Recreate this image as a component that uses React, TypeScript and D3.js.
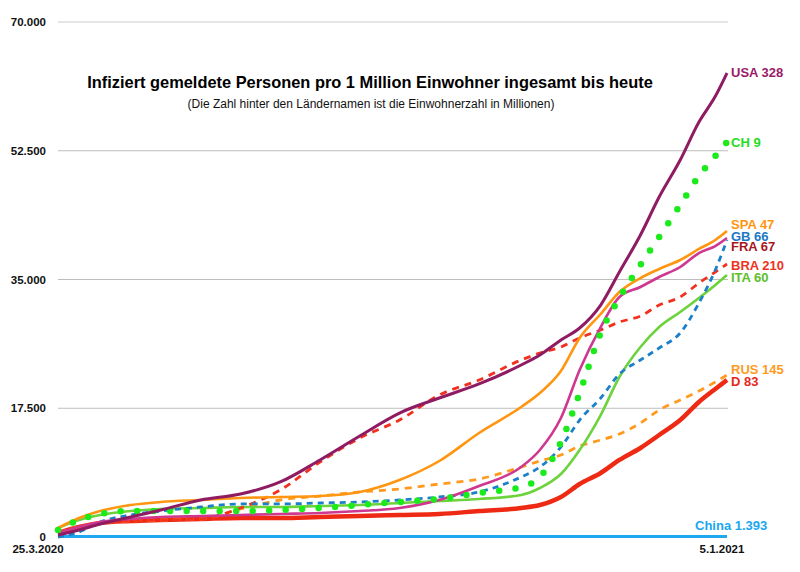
import React from "react";
import * as d3 from "d3";

// ---- data (values = infected per 1 million inhabitants, cumulative) ----
const START = "2020-03-25";
const END = "2021-01-05";
const days = [0, 9, 18, 31, 44, 61, 78, 95, 112, 129, 146, 163, 180, 198, 206, 215, 223, 232, 240, 249, 257, 266, 274, 281, 286];

const usa = [270, 950, 1770, 2720, 3670, 5030, 5840, 7480, 10470, 13730, 16850, 18890, 20800, 23380, 24740, 26780, 28410, 31530, 36020, 41050, 46210, 51240, 56400, 59900, 63070];
const ch = [950, 2310, 3130, 3530, 3530, 3530, 3530, 3670, 3940, 4350, 4760, 5160, 5980, 6800, 8160, 12910, 19570, 27730, 32480, 36970, 40780, 45130, 49070, 51790, 53690];
const spa = [1220, 2580, 3530, 4350, 4760, 5030, 5300, 5440, 5570, 6120, 7750, 10330, 14140, 17670, 19570, 22560, 27050, 30310, 33300, 35200, 36430, 37650, 39150, 40370, 41590];
const gb = [0, 680, 2040, 2990, 3530, 4080, 4490, 4490, 4620, 4760, 5030, 5440, 6120, 8160, 9510, 12230, 15900, 18890, 22150, 24060, 25690, 27730, 31800, 36290, 40370];
const fra = [540, 1360, 2040, 2450, 2720, 2850, 2990, 3130, 3260, 3530, 3940, 5030, 6930, 9510, 11830, 16170, 22700, 28540, 32620, 33980, 35340, 36700, 38600, 39550, 40640];
const bra = [540, 1360, 1900, 2170, 2310, 2450, 3940, 6390, 10190, 13460, 15900, 19300, 21340, 24060, 25010, 25820, 27050, 28140, 29220, 30040, 31530, 32620, 34520, 36020, 37110];
const ita = [1220, 2310, 2990, 3530, 3810, 3940, 4080, 4080, 4210, 4350, 4620, 4890, 5160, 5710, 6660, 8560, 11830, 16580, 21750, 25820, 28540, 30580, 32480, 34250, 35610];
const rus = [540, 1360, 1900, 2170, 2310, 2450, 3810, 5030, 5570, 6120, 6520, 7200, 7880, 9510, 10330, 11150, 12370, 13180, 14000, 15490, 17260, 18620, 19840, 21070, 22020];
const deu = [540, 1360, 1900, 2170, 2310, 2450, 2580, 2580, 2720, 2850, 2990, 3130, 3530, 3940, 4350, 5440, 7200, 8700, 10470, 12100, 13860, 15900, 18350, 20120, 21340];
const china = [60, 63, 63, 63, 64, 64, 64, 64, 64, 64, 64, 64, 64, 64, 64, 64, 64, 64, 64, 65, 65, 65, 65, 65, 65];
const traceDays = [0, 67];
const trace = [0, 0];

const yTicks = [0, 17500, 35000, 52500, 70000];
const xTickLabels = ["25.3.2020", "5.1.2021"];
const title = "Infiziert gemeldete Personen pro 1 Million Einwohner ingesamt bis heute";
const subtitle = "(Die Zahl hinter den Ländernamen ist die Einwohnerzahl in Millionen)";

// ---- styles ----
type S = { name: string; values: number[]; color: string; labelColor: string; width: number; dash?: string; cap?: string; dy: number };
const series: S[] = [
  { name: "D 83", values: deu, color: "#ee2a14", labelColor: "#e8281a", width: 4.5, dy: 1 },
  { name: "RUS 145", values: rus, color: "#ff9a1e", labelColor: "#ff9a1e", width: 2.8, dash: "7 6", dy: -6 },
  { name: "ITA 60", values: ita, color: "#6cd33c", labelColor: "#5cc02a", width: 2.6, dy: 2 },
  { name: "BRA 210", values: bra, color: "#f2301e", labelColor: "#ee3320", width: 2.8, dash: "7 6", dy: 1 },
  { name: "GB 66", values: gb, color: "#1c80c8", labelColor: "#1a78c4", width: 2.8, dash: "6 5", dy: -4 },
  { name: "FRA 67", values: fra, color: "#cf3891", labelColor: "#a8161c", width: 2.6, dy: 8 },
  { name: "SPA 47", values: spa, color: "#ff9510", labelColor: "#ff9510", width: 2.6, dy: -7 },
  { name: "CH 9", values: ch, color: "#1bea1b", labelColor: "#22dd22", width: 6.5, dash: "0 16.5", cap: "round", dy: 0 },
  { name: "USA 328", values: usa, color: "#8f1b62", labelColor: "#9a1a68", width: 3, dy: -1 },
];

export default function App() {
  const W = 800, H = 572;
  const t0 = new Date(START + "T00:00:00");
  const t1 = new Date(END + "T00:00:00");
  const x = d3.scaleTime().domain([t0, t1]).range([58, 727]);
  const y = d3.scaleLinear().domain([0, 70000]).range([537, 22]);
  const dateOf = (d: number) => d3.timeDay.offset(t0, d);
  const line = d3.line<[number, number]>()
    .x((p) => x(dateOf(p[0])))
    .y((p) => y(p[1]))
    .curve(d3.curveMonotoneX);
  const pts = (vals: number[], ds = days) => ds.map((d, i) => [d, vals[i]] as [number, number]);
  const font = "'Liberation Sans', Arial, Helvetica, sans-serif";

  return (
    <svg width={W} height={H} style={{ position: "absolute", left: 0, top: 0, background: "#fff" }} fontFamily={font}>
      {yTicks.map((t) => (
        <g key={t}>
          {t > 0 && (
            <line x1={58} x2={728} y1={y(t)} y2={y(t)} stroke={t === 70000 ? "#dcdcdc" : "#bdbdbd"} strokeWidth={t === 70000 ? 1.6 : 1} />
          )}
          <text x={46} y={y(t)} dy="0.35em" textAnchor="end" fontSize={11.5} fontWeight="bold" fill="#111">
            {d3.format(",")(t).replace(/,/g, ".")}
          </text>
        </g>
      ))}
      <text x={x(t0) - 20} y={553} textAnchor="middle" fontSize={11.5} fontWeight="bold" fill="#111">{xTickLabels[0]}</text>
      <text x={x(t1) - 5} y={553} textAnchor="middle" fontSize={11.5} fontWeight="bold" fill="#111">{xTickLabels[1]}</text>

      <text x={370} y={88} textAnchor="middle" fontSize={16.4} fontWeight="bold" fill="#000">{title}</text>
      <text x={371} y={108} textAnchor="middle" fontSize={12} fill="#111">{subtitle}</text>

      <path d={line(pts(trace, traceDays)) || ""} fill="none" stroke="#f6b3ad" strokeWidth={2} strokeDasharray="7 6" />
      <path d={line(pts(china)) || ""} fill="none" stroke="#1ea8f0" strokeWidth={3} />
      <text x={695} y={y(china[china.length - 1]) - 11} dy="0.35em" fontSize={13} fontWeight="bold" fill="#1aa7f0">China 1.393</text>

      {series.map((s) => (
        <path key={s.name} d={line(pts(s.values)) || ""} fill="none" stroke={s.color} strokeWidth={s.width}
          strokeDasharray={s.dash} strokeLinecap={(s.cap as any) || "butt"} strokeLinejoin="round" />
      ))}
      {series.map((s) => (
        <text key={s.name + "l"} x={731} y={y(s.values[s.values.length - 1]) + s.dy} dy="0.35em" fontSize={13} fontWeight="bold" fill={s.labelColor}>
          {s.name}
        </text>
      ))}
    </svg>
  );
}
